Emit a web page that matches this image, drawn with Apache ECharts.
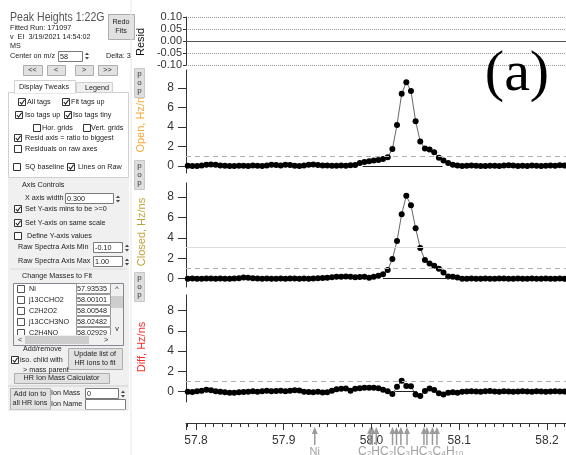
<!DOCTYPE html>
<html><head><meta charset="utf-8">
<script src="https://cdn.jsdelivr.net/npm/echarts@6/dist/echarts.min.js"></script>
<style>html,body{margin:0;padding:0;background:#fff;overflow:hidden}#c{width:566px;height:455px}</style>
</head><body><div id="c"></div><script>
// ---- data ----
const mz = [57.7906,57.7959,57.8012,57.8065,57.8118,57.8171,57.8224,57.8277,57.8330,57.8383,
57.8436,57.8489,57.8542,57.8595,57.8648,57.8701,57.8754,57.8807,57.8860,57.8913,
57.8966,57.9019,57.9072,57.9125,57.9178,57.9231,57.9284,57.9337,57.9390,57.9443,
57.9496,57.9549,57.9602,57.9655,57.9708,57.9761,57.9814,57.9867,57.9920,57.9973,
58.0026,58.0079,58.0132,58.0185,58.0238,58.0291,58.0344,58.0397,58.0450,58.0503,
58.0556,58.0609,58.0662,58.0715,58.0768,58.0821,58.0874,58.0927,58.0980,58.1033,
58.1086,58.1139,58.1192,58.1245,58.1298,58.1351,58.1404,58.1457,58.1510,58.1563,
58.1616,58.1669,58.1722,58.1775,58.1828,58.1881,58.1934,58.1987,58.2040,58.2093,
58.2146,58.2199];
const openHz = [0.02,0.00,0.00,0.05,0.12,0.15,0.12,0.05,0.02,0.00,
0.00,0.02,0.03,0.00,0.05,0.02,0.00,0.05,0.12,0.10,
0.05,0.12,0.10,0.02,0.00,0.05,0.12,0.15,0.10,0.05,
0.05,0.02,0.03,0.05,0.02,0.08,0.10,0.30,0.42,0.48,
0.55,0.62,0.72,0.90,1.74,4.20,7.40,8.60,7.70,4.60,
2.50,1.80,1.70,1.40,0.85,0.55,0.30,0.12,0.05,0.00,
0.02,0.05,0.02,0.00,0.00,0.03,0.02,0.00,0.05,0.08,
0.05,0.00,0.02,0.00,0.05,0.02,0.00,0.03,0.05,0.02,
0.08,0.05];
const closedHz = [0.00,0.02,0.00,0.00,0.03,0.02,0.00,0.02,0.00,0.00,
0.03,0.05,0.12,0.10,0.05,0.02,0.00,0.02,0.00,0.00,
0.02,0.00,0.03,0.02,0.00,0.02,0.00,0.03,0.05,0.08,
0.10,0.15,0.20,0.20,0.22,0.20,0.15,0.18,0.20,0.10,
0.20,0.30,0.43,0.85,1.93,3.70,6.33,8.13,7.20,4.95,
3.00,1.84,1.50,1.28,0.98,0.62,0.23,0.20,0.13,0.00,
0.00,0.02,0.00,0.00,0.02,0.00,0.00,0.02,0.03,0.00,
0.00,0.02,0.00,0.00,0.02,0.00,0.00,0.02,0.00,0.00,
0.02,0.00];
const diffHz = [0.00,-0.02,0.05,0.10,0.20,0.15,0.05,0.00,-0.05,-0.10,
-0.10,-0.05,-0.03,0.00,0.05,0.00,0.05,0.10,0.05,0.08,
0.10,0.05,0.10,0.15,0.12,0.00,-0.02,-0.05,0.00,-0.08,
-0.05,0.10,0.25,0.30,0.32,0.10,0.30,0.35,0.40,0.40,
0.40,0.35,0.20,0.05,-0.23,0.50,1.08,0.56,0.53,-0.26,
-0.43,0.07,0.33,0.16,-0.16,-0.26,-0.10,-0.05,-0.10,0.00,
0.02,0.05,0.02,0.00,0.05,0.08,0.03,0.00,0.05,0.02,
0.00,0.03,0.05,0.02,0.00,0.05,0.03,0.00,0.02,0.05,
0.03,0.02];
const rawTicks = [0, 2, 4, 6, 8];
const residTicks = [-0.10, -0.05, 0.00, 0.05, 0.10];
const ionMasses = [57.93535, 57.9985, 58.00101, 58.00548, 58.0240, 58.0285, 58.0335, 58.0405, 58.0598, 58.0632, 58.0695, 58.0746];
const ionLabels = ['Ni', '', '', '', '', '', '', '', '', '', '', ''];
const clusterLabel = 'C\u2082HC\u2082IC\u2083HC\u2083C\u2084H\u2081\u2080';
const limits = {open: 0.95, closed: 1.0, diff: 1.05, closedUpper: 3.1};
const baseSpans = {open: [57.990, 58.081], closed: [58.013, 58.089], diff: [58.027, 58.052]};
const massList = [['Ni','57.93535'],['j13CCHO2','58.00101'],['C2H2O2','58.00548'],['j13CCH3NO','58.02482'],['C2H4NO','58.02929']];

// ---- layout ----
const X0 = 57.7886, X1 = 58.2217;
const chart = echarts.init(document.getElementById('c'), null, {renderer: 'canvas'});
const F = '"Liberation Sans", Arial, sans-serif';
const G = [];
function txt(x, y, s, o) {
  o = o || {};
  const sx = o.sx != null ? o.sx : (o.size ? 1 : 0.9);
  G.push({type: 'text', z: o.z || 10, x: x, y: y, rotation: o.rot || 0, scaleX: sx,
    style: {text: s, x: 0, y: 0, font: (o.size || 8) + 'px ' + (o.family || F), fill: o.color || '#222',
      align: o.align || 'left', verticalAlign: 'middle', textAlign: o.align || 'left', textVerticalAlign: 'middle'}});
}
function rect(x, y, w, h, fill, stroke, z) {
  G.push({type: 'rect', z: z || 5, shape: {x: x, y: y, width: w, height: h},
    style: {fill: fill, stroke: stroke || null, lineWidth: 1}});
}
function line(x1, y1, x2, y2, c, z) {
  G.push({type: 'line', z: z || 6, shape: {x1: x1, y1: y1, x2: x2, y2: y2}, style: {stroke: c, lineWidth: 1}});
}
function cb(x, y, checked, label, tx) {
  rect(x + 0.5, y - 3.5, 7, 7, '#fff', '#333', 8);
  if (checked) G.push({type: 'polyline', z: 9, shape: {points: [[x + 1.8, y], [x + 3.6, y + 2], [x + 6.6, y - 2.2]]},
    style: {stroke: '#222', lineWidth: 1.1, fill: null}});
  if (label) txt(tx != null ? tx : x + 11, y, label);
}
function btn(x, y, w, h, lines, fill) {
  rect(x + 0.5, y + 0.5, w, h, fill || '#e1e1e1', '#adadad', 6);
  const n = lines.length;
  lines.forEach((s, i) => txt(x + w / 2, y + h / 2 + (i - (n - 1) / 2) * 9.5, s, {align: 'center'}));
}
function input(x, y, w, h, s) {
  rect(x + 0.5, y + 0.5, w, h, '#fff', '#7a7a7a', 6);
  if (s) txt(x + 2, y + h / 2 + 0.5, s);
}
function spin(x, y) {
  G.push({type: 'polygon', z: 9, shape: {points: [[x, y + 4], [x + 2, y + 1.5], [x + 4, y + 4]]}, style: {fill: '#444'}});
  G.push({type: 'polygon', z: 9, shape: {points: [[x, y + 6], [x + 2, y + 8.5], [x + 4, y + 6]]}, style: {fill: '#444'}});
}

// left panel
rect(8, 178, 121, 232, '#f0f0f0', null, 1);
txt(10, 17.5, 'Peak Heights 1:22G', {size: 12, sx: 0.88, color: '#555'});
btn(108, 14, 26, 25, ['Redo', 'Fits']);
txt(10, 28, 'Fitted Run: 171097');
txt(10, 37, 'v  EI  3/19/2021 14:54:02');
txt(10, 46, 'MS');
txt(10, 56, 'Center on m/z');
input(58, 51, 24, 10, '58'); spin(85, 51);
txt(106, 56, 'Delta: 3');
btn(23, 65, 19, 10, ['<<']); btn(47, 65, 18, 10, ['<']); btn(75, 65, 18, 10, ['>']); btn(98, 65, 19, 10, ['>>']);
rect(8.5, 92.5, 120, 85, '#fff', '#d0d0d0', 2);
rect(14.5, 80.5, 61, 13, '#fff', '#d0d0d0', 3);
line(15, 93, 75, 93, '#fff', 4);
rect(76.5, 82.5, 36, 10, '#f0f0f0', '#d0d0d0', 3);
txt(19, 87, 'Display Tweaks'); txt(85, 88, 'Legend');
cb(18, 102, true, 'All tags', 27); cb(62, 102, true, 'Fit tags up', 71);
cb(15, 115, true, 'Iso tags up', 25); cb(64, 115, true, 'Iso tags tiny', 73);
cb(33, 128, false, 'Hor. grids', 42); cb(83, 128, false, 'Vert. grids', 91);
cb(14, 138, true, 'Resid axis = ratio to biggest', 25);
cb(14, 149, false, 'Residuals on raw axes', 25);
cb(13, 167, false, 'SQ baseline', 25); cb(67, 167, true, 'Lines on Raw', 78);
txt(22, 185, 'Axis Controls');
txt(25, 198, 'X axis width'); input(65, 193, 48, 10, '0.300'); spin(116, 194);
cb(14, 209, true, 'Set Y-axis mins to be >=0', 25);
cb(14, 223, true, 'Set Y-axis on same scale', 25);
cb(14, 236, false, 'Define Y-axis values', 27);
txt(18, 247, 'Raw Spectra Axis Min'); input(93, 242, 29, 10, '-0.10'); spin(125, 243);
txt(18, 261, 'Raw Spectra Axis Max'); input(93, 256, 29, 10, '1.00'); spin(125, 257);
line(10, 269, 127, 269, '#d8d8d8');
txt(22, 276, 'Change Masses to Fit');
rect(13.5, 283.5, 110, 62, '#fff', '#828790', 5);
massList.forEach((r, i) => {
  const y = 289 + i * 11;
  rect(17.5, y - 3.5, 7, 7, '#fff', '#555', 7);
  txt(29, y, r[0]);
  rect(76.5, y - 5.5, 34, 10, '#fff', '#999', 6);
  txt(77, y, r[1]);
});
rect(111, 284, 12, 51, '#f0f0f0', null, 11); txt(117, 289, '^', {align: 'center', z: 12});
rect(111, 296, 12, 12, '#cdcdcd', null, 12); txt(117, 329, 'v', {align: 'center', z: 12});
rect(14, 335, 97, 10, '#f0f0f0', null, 11); rect(25, 336, 64, 8, '#cdcdcd', null, 12);
txt(18, 340, '<', {z: 12}); txt(104, 340, '>', {z: 12});
rect(111, 335, 12, 10, '#f0f0f0', null, 11);
cb(11, 360, true, null);
txt(23, 349, 'Add/remove'); txt(20, 360, 'iso. child with'); txt(23, 370, '> mass parent');
btn(68, 348, 54, 21, ['Update list of', 'HR ions to fit']);
btn(14, 373, 95, 10, ['HR Ion Mass Calculator']);
line(8, 386, 128, 386, '#cfcfcf');
btn(10, 388, 40, 21, ['Add ion to', 'all HR ions']);
txt(51, 393, 'Ion Mass'); input(85, 388, 33, 10, '0'); spin(121, 389);
txt(51, 404, 'Ion Name'); input(85, 399, 40, 10, '');
line(8, 410, 128, 410, '#e0e0e0');
line(131, 0, 131, 455, '#e6e6e6');

// axis titles and pop buttons
txt(141, 42, 'Resid', {size: 11, color: '#111', align: 'center', rot: Math.PI / 2});
txt(141, 122, 'Open, Hz/ns', {size: 11, color: '#f5a733', align: 'center', rot: Math.PI / 2});
txt(142, 232, 'Closed, Hz/ns', {size: 11, color: '#c0a437', align: 'center', rot: Math.PI / 2});
txt(142, 347, 'Diff, Hz/ns', {size: 11, color: '#ff2a2a', align: 'center', rot: Math.PI / 2});
[68, 160, 272].forEach(y => {
  rect(134.5, y + 0.5, 10, 29, '#dedede', '#c8c8c8', 20);
  ['p', 'o', 'p'].forEach((c, i) => txt(139.5, y + 6 + i * 8.5, c, {size: 8, align: 'center', z: 21, color: '#333'}));
});
txt(517, 75, '(a)', {size: 58, family: '"Liberation Serif", "Times New Roman", serif', color: '#000', align: 'center', z: 30});
txt(358, 452, clusterLabel, {size: 12, color: '#a0a0a0', z: 30});

// ---- chart ----
const grids = [
  {left: 186, right: 0, top: 17, height: 48},
  {left: 186, right: 0, top: 70, height: 103},
  {left: 186, right: 0, top: 183, height: 104},
  {left: 186, right: 0, top: 295, height: 107},
  {left: 186, right: 0, top: 422, height: 1},
  {left: 186, right: 0, top: 426, height: 29}
];
const hiddenX = i => ({type: 'value', gridIndex: i, min: X0, max: X1, show: false});
const rawY = (i, min, max) => ({
  type: 'value', gridIndex: i, min: min, max: max,
  axisLine: {show: true, lineStyle: {color: '#333', width: 1}},
  axisTick: {show: true, length: 8, customValues: rawTicks, lineStyle: {color: '#333'}},
  axisLabel: {customValues: rawTicks, margin: 12, color: '#333', fontSize: 12, fontFamily: F},
  splitLine: {show: false}
});
const xAxes = [hiddenX(0), hiddenX(1), hiddenX(2), hiddenX(3), {
  type: 'value', gridIndex: 4, min: X0, max: X1, position: 'bottom',
  axisLine: {show: true, lineStyle: {color: '#333'}},
  axisTick: {show: true, length: 7, lineStyle: {color: '#333'}},
  minorTick: {show: true, splitNumber: 10, length: 4, lineStyle: {color: '#333'}},
  axisLabel: {margin: 12, color: '#333', fontSize: 12, fontFamily: F, showMinLabel: false, showMaxLabel: false,
    formatter: v => v.toFixed(1)},
  splitLine: {show: false}, minorSplitLine: {show: false}
}, hiddenX(5)];
const yAxes = [
  {type: 'value', gridIndex: 0, min: -0.1, max: 0.1, interval: 0.05,
    axisLine: {show: true, lineStyle: {color: '#333'}},
    axisTick: {show: true, length: 3, lineStyle: {color: '#333'}},
    axisLabel: {margin: 4, color: '#333', fontSize: 11, fontFamily: F, formatter: v => v.toFixed(2)},
    splitLine: {show: true, lineStyle: {type: 'dotted', color: '#999', width: 1}}},
  rawY(1, -0.72, 9.85), rawY(2, -0.81, 9.38), rawY(3, -1.01, 9.53),
  {type: 'value', gridIndex: 4, show: false, min: 0, max: 1},
  {type: 'value', gridIndex: 5, show: false, min: 0, max: 1}
];
function rawSeries(i, vals, lim, span, extra) {
  const ml = [
    {yAxis: lim, lineStyle: {type: [5, 4], color: '#b0b0b0', width: 1}},
    [{coord: [span[0], 0], lineStyle: {type: 'solid', color: '#222', width: 1}}, {coord: [span[1], 0]}]
  ].concat(extra || []);
  return {
    type: 'line', xAxisIndex: i, yAxisIndex: i, data: mz.map((x, k) => [x, vals[k]]),
    symbol: 'circle', symbolSize: 6, showSymbol: true, showAllSymbol: true,
    itemStyle: {color: '#000'}, lineStyle: {color: '#666', width: 1}, z: 3,
    markLine: {silent: true, symbol: ['none', 'none'], label: {show: false}, animation: false, data: ml}
  };
}
const series = [
  {type: 'line', xAxisIndex: 0, yAxisIndex: 0, data: [], markLine: {silent: true, symbol: ['none', 'none'], label: {show: false},
    animation: false, data: [{yAxis: 0, lineStyle: {type: 'solid', color: '#555', width: 1.2}}]}},
  rawSeries(1, openHz, limits.open, baseSpans.open),
  rawSeries(2, closedHz, limits.closed, baseSpans.closed, [{yAxis: limits.closedUpper, lineStyle: {type: 'solid', color: '#dcdcdc', width: 1}}]),
  rawSeries(3, diffHz, limits.diff, baseSpans.diff),
  {type: 'custom', xAxisIndex: 5, yAxisIndex: 5, data: ionMasses.map(m => [m, 1]), z: 4,
    renderItem: function (params, api) {
      const p = api.coord([api.value(0), 1]);
      const x = p[0], y = p[1];
      const label = ionLabels[params.dataIndex];
      const ch = [
        {type: 'polygon', shape: {points: [[x, y + 1], [x - 3, y + 8], [x + 3, y + 8]]}, style: {fill: '#9a9a9a'}},
        {type: 'rect', shape: {x: x - 0.75, y: y + 7, width: 1.5, height: 12}, style: {fill: '#9a9a9a'}}
      ];
      if (label) ch.push({type: 'text', style: {text: label, x: x, y: y + 26, align: 'center', verticalAlign: 'middle',
        textAlign: 'center', textVerticalAlign: 'middle', font: '11px ' + F, fill: '#a0a0a0'}});
      return {type: 'group', children: ch};
    }}
];
chart.setOption({
  animation: false, backgroundColor: '#fff',
  grid: grids, xAxis: xAxes, yAxis: yAxes, series: series, graphic: {elements: G}
});
</script></body></html>
